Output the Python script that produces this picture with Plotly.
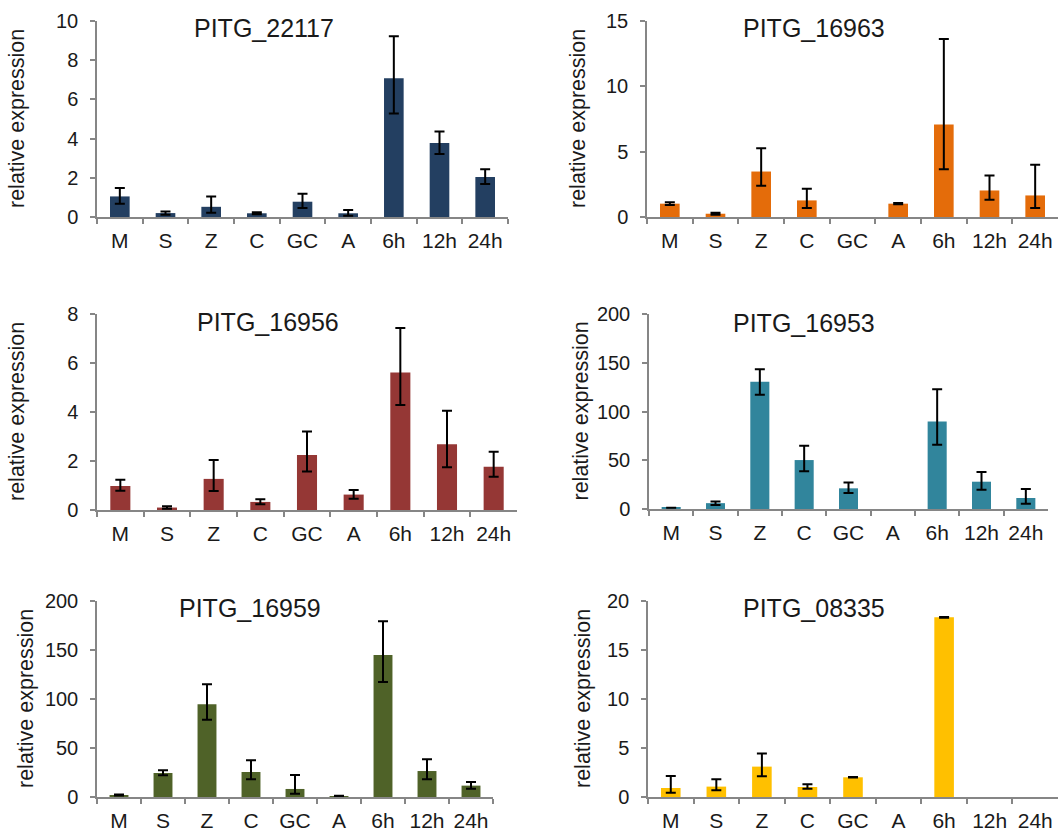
import plotly.graph_objects as go

W, H = 1062, 831

categories = ["M", "S", "Z", "C", "GC", "A", "6h", "12h", "24h"]

titles = ["PITG_22117", "PITG_16963", "PITG_16956", "PITG_16953", "PITG_16959", "PITG_08335"]
colors = ["#233F61", "#E46C0A", "#953735", "#31859C", "#4F6228", "#FFC000"]

# values, upper errors, lower errors (None = nothing drawn)
v_22117 = [1.05, 0.20, 0.52, 0.19, 0.78, 0.19, 7.08, 3.77, 2.04]
up_22117 = [0.43, 0.08, 0.53, 0.05, 0.41, 0.17, 2.14, 0.59, 0.40]
dn_22117 = [0.37, 0.08, 0.30, 0.05, 0.32, 0.12, 1.80, 0.56, 0.36]

v_16963 = [1.02, 0.25, 3.48, 1.27, None, 1.02, 7.07, 2.03, 1.65]
up_16963 = [0.10, 0.07, 1.78, 0.89, None, 0.05, 6.56, 1.15, 2.34]
dn_16963 = [0.10, 0.07, 1.09, 0.58, None, 0.05, 3.41, 0.71, 0.96]

v_16956 = [0.98, 0.10, 1.27, 0.33, 2.25, 0.63, 5.61, 2.68, 1.77]
up_16956 = [0.25, 0.05, 0.77, 0.11, 0.95, 0.19, 1.82, 1.37, 0.61]
dn_16956 = [0.19, 0.05, 0.49, 0.10, 0.68, 0.17, 1.32, 0.94, 0.41]

v_16953 = [1.2, 6.0, 130.4, 50.2, 21.2, None, 89.8, 28.0, 11.3]
up_16953 = [None, 1.6, 13.0, 14.6, 6.0, None, 33.0, 10.0, 9.2]
dn_16953 = [None, 2.0, 13.3, 11.6, 4.8, None, 24.0, 8.2, 5.8]

v_16959 = [2.0, 24.5, 94.6, 25.5, 8.2, 1.0, 144.9, 26.5, 11.6]
up_16959 = [0.5, 2.7, 20.4, 11.9, 14.3, 0.3, 34.4, 11.9, 3.7]
dn_16959 = [0.5, 2.4, 15.7, 7.5, 4.8, 0.3, 27.6, 8.5, 3.1]

v_08335 = [0.92, 1.06, 3.10, 1.02, 2.01, None, 18.33, None, None]
up_08335 = [1.23, 0.75, 1.33, 0.27, 0.03, None, 0.05, None, None]
dn_08335 = [0.48, 0.38, 0.99, 0.17, 0.03, None, 0.05, None, None]

values = [v_22117, v_16963, v_16956, v_16953, v_16959, v_08335]
err_up = [up_22117, up_16963, up_16956, up_16953, up_16959, up_08335]
err_dn = [dn_22117, dn_16963, dn_16956, dn_16953, dn_16959, dn_08335]

y_max = [10, 15, 8, 200, 200, 20]
y_step = [2, 5, 2, 50, 50, 5]

# pixel layout of each panel: x-left, x-right, y-bottom(value 0), y-top(max)
boxes = [
    (97, 508, 217, 21),
    (647, 1058, 217, 21),
    (97, 517, 510, 314),
    (649, 1048, 509, 314),
    (97, 493, 797, 601),
    (648, 1058, 797, 601),
]
title_pos = [(264, 28), (814, 28), (268, 322), (804, 323), (250, 608), (814, 608)]
ytitle_x = [17, 578, 17, 580, 26, 583]

FONT = "Liberation Sans, Arial, sans-serif"
AXIS_COLOR = "#868686"
TEXT_COLOR = "#1a1a1a"

fig = go.Figure()
annotations = []
for i in range(6):
    n = i + 1
    xa = "x" if n == 1 else f"x{n}"
    ya = "y" if n == 1 else f"y{n}"
    fig.add_trace(go.Bar(
        x=categories, y=values[i], xaxis=xa, yaxis=ya,
        marker=dict(color=colors[i], line=dict(width=0)),
        error_y=dict(type="data", symmetric=False, array=err_up[i], arrayminus=err_dn[i],
                     color="black", thickness=2, width=5),
        showlegend=False,
    ))
    x0, x1, yb, yt = boxes[i]
    xd = [x0 / W, x1 / W]
    yd = [(H - yb) / H, (H - yt) / H]
    axis_common = dict(showline=True, linecolor=AXIS_COLOR, linewidth=1.5,
                       ticks="outside", tickcolor=AXIS_COLOR, ticklen=5, tickwidth=1.5,
                       showgrid=False, zeroline=False, automargin=False)
    fig.update_layout(**{
        ("xaxis" if n == 1 else f"xaxis{n}"): dict(
            domain=xd, anchor=ya, type="category", tickson="boundaries",
            range=[-0.5, 8.5], ticklabelstandoff=4, tickangle=0,
            tickfont=dict(family=FONT, size=21, color=TEXT_COLOR), **axis_common),
        ("yaxis" if n == 1 else f"yaxis{n}"): dict(
            domain=yd, anchor=xa, range=[0, y_max[i]], dtick=y_step[i],
            ticklabelstandoff=8,
            tickfont=dict(family=FONT, size=20, color=TEXT_COLOR), **axis_common),
    })
    tx, ty = title_pos[i]
    annotations.append(dict(text=titles[i], xref="paper", yref="paper",
                            x=tx / W, y=(H - ty) / H, xanchor="center", yanchor="middle",
                            showarrow=False, font=dict(family=FONT, size=25, color=TEXT_COLOR)))
    annotations.append(dict(text="relative expression", xref="paper", yref="paper",
                            x=ytitle_x[i] / W, y=(H - (yb + yt) / 2) / H,
                            xanchor="center", yanchor="middle", textangle=-90,
                            showarrow=False, font=dict(family=FONT, size=21.5, color=TEXT_COLOR)))

fig.update_layout(width=W, height=H, margin=dict(l=0, r=0, t=0, b=0, autoexpand=False),
                  paper_bgcolor="white", plot_bgcolor="white",
                  bargap=0.57, annotations=annotations)

fig.write_html("out.html")
